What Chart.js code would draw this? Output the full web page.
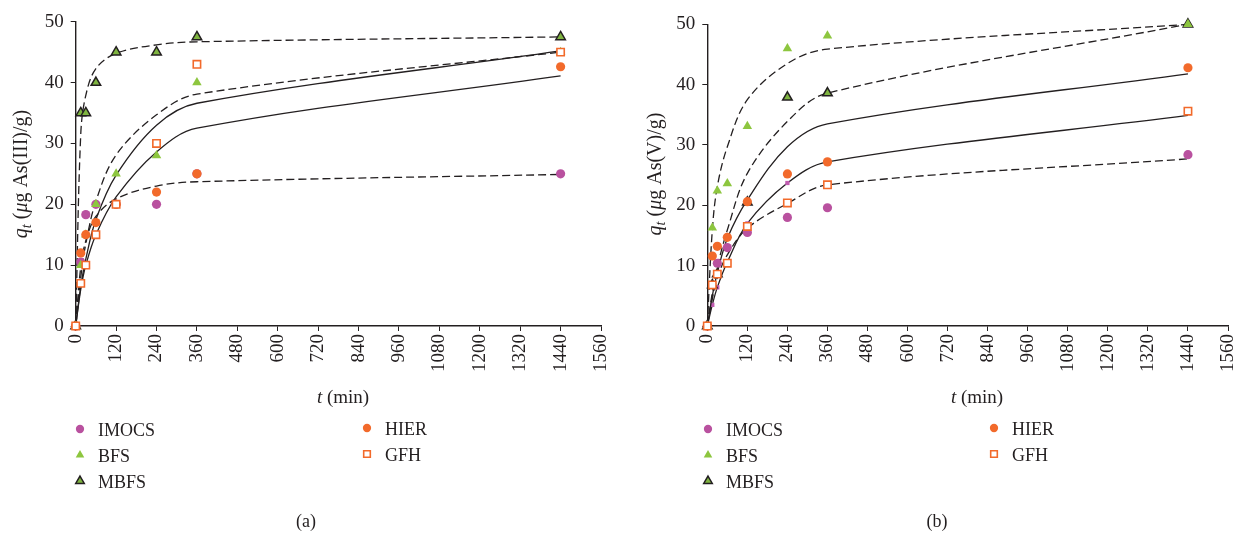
<!DOCTYPE html>
<html>
<head>
<meta charset="utf-8">
<script src="https://cdn.jsdelivr.net/npm/chart.js@4.4.1/dist/chart.umd.min.js"></script>
<style>
  html, body { margin: 0; padding: 0; background: #fff; }
  .wrap { position: relative; width: 1235px; height: 535px; overflow: hidden; }
  canvas { position: absolute; top: 0; }
  #chartA { left: 0; }
  #chartB { left: 617px; }
</style>
</head>
<body>
<div class="wrap">
  <canvas id="chartA" width="617" height="535"></canvas>
  <canvas id="chartB" width="618" height="535"></canvas>
</div>
<script>
// sampling times (min)
const times = [0, 15, 30, 60, 120, 240, 360, 1440];
const xTickStep = 120;
const yTickStep = 10;

// (a) As(III) measured
const imocsA = [0, 10.5, 18.3, 20, 20, 20, 25, 25];
const hierA = [0, 12, 15, 17, 20, 22, 25, 42.6];
const bfsA = [0, 10, 15, 20, 25, 28, 40, 45];
const gfhA = [0, 7, 10, 15, 20, 30, 43, 45];
const mbfsA = [0, 35, 35, 40, 45, 45, 47.5, 47.5];
// (a) model curves
const fitA1 = [0, 31.5, 37.9, 42.3, 44.8, 46.2, 46.7, 47.5];
const fitA2 = [0, 8, 13.5, 20.5, 28.1, 34.7, 38.1, 45.0];
const fitA3 = [0, 6.5, 11, 17.5, 24.8, 33.0, 36.6, 45.2];
const fitA4 = [0, 6, 10, 15, 21.2, 28.6, 32.5, 41.1];
const fitA5 = [0, 9.7, 14, 18, 20.9, 23, 23.7, 24.9];

// (b) As(V) measured
const imocsB = [0, null, 10.4, 13, 15.5, 18, 19.6, 28.4];
const hierB = [0, 11.6, 13.2, 14.7, 20.6, 25.2, 27.2, 42.8];
const bfsB = [0, 16.3, 22.4, 23.6, 33.1, 46, 48.1, 50];
const gfhB = [0, 6.8, 8.6, 10.4, 16.5, 20.4, 23.4, 35.6];
const mbfsB = [0, 6.8, 8.6, null, 20.5, 37.9, 38.6, 50];
// (b) model curves
const fitB1 = [0, 15.9, 23.1, 29.7, 37.5, 43.5, 45.9, 50];
const fitB2 = [0, 5.5, 9.8, 15.9, 25.3, 33.9, 38.6, 50];
const fitB3 = [0, 5, 8.8, 14.5, 20.9, 29.7, 33.5, 41.8];
const fitB4 = [0, 3.5, 6.4, 10.6, 17.0, 23.7, 27.2, 34.9];
const fitB5 = [0, 4.5, 8, 11.8, 16.2, 20.3, 23.4, 27.7];

const PURPLE = "#b9519f";
const ORANGE = "#f26a2b";
const GREEN = "#8dc63f";
const DARK = "#231f20";
const FONT = "'Liberation Serif', 'Times New Roman', serif";

const styles = {
    IMOCS: { pointStyle: "circle", pointRadius: 4.6, backgroundColor: PURPLE, borderColor: PURPLE, borderWidth: 0 },
    HIER: { pointStyle: "circle", pointRadius: 4.6, backgroundColor: ORANGE, borderColor: ORANGE, borderWidth: 0 },
    BFS: { pointStyle: "triangle", pointRadius: 5.5, backgroundColor: GREEN, borderColor: GREEN, borderWidth: 0 },
    GFH: { pointStyle: "rect", pointRadius: 5.2, backgroundColor: "#ffffff", borderColor: ORANGE, borderWidth: 1.6 },
    MBFS: { pointStyle: "triangle", pointRadius: 5.5, backgroundColor: "#7fb440", borderColor: DARK, borderWidth: 1.5 }
};

function toPoints(values) {
    const pts = [];
    times.forEach((t, i) => {
        if (values[i] !== null) pts.push({ x: t, y: values[i] });
    });
    return pts;
}

function pointSet(label, values) {
    return Object.assign({ label: label, data: toPoints(values), showLine: false, clip: false }, styles[label]);
}

function fitLine(values, dashed, markers) {
    const ds = {
        label: "fit",
        data: toPoints(values),
        showLine: true,
        borderColor: DARK,
        borderWidth: 1.3,
        borderDash: dashed ? [8, 4] : [],
        tension: 0.35,
        pointRadius: 0,
        clip: false
    };
    if (markers) {
        ds.pointStyle = "rect";
        ds.pointRadius = [0, 3, 3, 3, 3, 3, 3, 0];
        ds.pointBackgroundColor = "#c05bb0";
        ds.pointBorderWidth = 0;
    }
    return ds;
}

function drawMarker(ctx, label, x, y) {
    const s = styles[label];
    const r = s.pointRadius * 0.9;
    ctx.save();
    ctx.fillStyle = s.backgroundColor;
    ctx.strokeStyle = s.borderColor;
    ctx.lineWidth = s.borderWidth;
    ctx.beginPath();
    if (s.pointStyle === "circle") {
        ctx.arc(x, y, r, 0, Math.PI * 2);
    } else if (s.pointStyle === "triangle") {
        let a = 0;
        ctx.moveTo(x + Math.sin(a) * r, y - Math.cos(a) * r);
        a += Math.PI * 2 / 3;
        ctx.lineTo(x + Math.sin(a) * r, y - Math.cos(a) * r);
        a += Math.PI * 2 / 3;
        ctx.lineTo(x + Math.sin(a) * r, y - Math.cos(a) * r);
        ctx.closePath();
    } else {
        const h = r * Math.SQRT1_2;
        ctx.rect(x - h, y - h, h * 2, h * 2);
    }
    ctx.fill();
    if (s.borderWidth > 0) ctx.stroke();
    ctx.restore();
}

const panelText = {
    chartA: { ion: "III", yTitleX: 27, xTitleX: 343, legendX1: 80, legendX2: 367, caption: "(a)", captionX: 306 },
    chartB: { ion: "V", yTitleX: 44, xTitleX: 360, legendX1: 91, legendX2: 377, caption: "(b)", captionX: 320 }
};

// draws the axis titles, the legend and the panel caption
const decorPlugin = {
    id: "decor",
    afterDraw(chart) {
        const p = panelText[chart.canvas.id];
        const ctx = chart.ctx;
        ctx.save();
        ctx.fillStyle = DARK;
        ctx.textBaseline = "alphabetic";
        ctx.textAlign = "left";

        // y title, rotated: italic q, subscript t, italic mu
        const parts = [
            { text: "q", font: "italic 20px " + FONT, shift: 0 },
            { text: "t", font: "italic 14px " + FONT, shift: 4 },
            { text: " (", font: "20px " + FONT, shift: 0 },
            { text: "\u03bc", font: "italic 20px " + FONT, shift: 0 },
            { text: "g As(" + p.ion + ")/g)", font: "20px " + FONT, shift: 0 }
        ];
        const widths = [];
        let total = 0;
        parts.forEach(part => {
            ctx.font = part.font;
            const w = ctx.measureText(part.text).width;
            widths.push(w);
            total += w;
        });
        ctx.save();
        ctx.translate(p.yTitleX, 174);
        ctx.rotate(-Math.PI / 2);
        let pos = -total / 2;
        parts.forEach((part, i) => {
            ctx.font = part.font;
            ctx.fillText(part.text, pos, part.shift);
            pos += widths[i];
        });
        ctx.restore();

        // x title: italic t + (min)
        ctx.font = "italic 19px " + FONT;
        const tW = ctx.measureText("t").width;
        ctx.font = "19px " + FONT;
        const restW = ctx.measureText(" (min)").width;
        const xs = p.xTitleX - (tW + restW) / 2;
        ctx.font = "italic 19px " + FONT;
        ctx.fillText("t", xs, 403);
        ctx.font = "19px " + FONT;
        ctx.fillText(" (min)", xs + tW, 403);

        // legend, two columns
        const legend = [
            { label: "IMOCS", x: p.legendX1, y: 429 },
            { label: "BFS", x: p.legendX1, y: 455 },
            { label: "MBFS", x: p.legendX1, y: 481 },
            { label: "HIER", x: p.legendX2, y: 428 },
            { label: "GFH", x: p.legendX2, y: 454 }
        ];
        ctx.font = "18px " + FONT;
        legend.forEach(item => {
            drawMarker(ctx, item.label, item.x, item.y);
            ctx.fillStyle = DARK;
            ctx.fillText(item.label, item.x + 18, item.y + 6.5);
        });

        // caption
        ctx.textAlign = "center";
        ctx.fillText(p.caption, p.captionX, 527);
        ctx.restore();
    }
};

function createChart(canvasId, cfg) {
    const ctx = document.getElementById(canvasId);
    const canvasW = ctx.width;
    const datasets = [
        pointSet("GFH", cfg.gfh),
        pointSet("HIER", cfg.hier),
        pointSet("BFS", cfg.bfs),
        pointSet("MBFS", cfg.mbfs),
        pointSet("IMOCS", cfg.imocs)
    ].concat(cfg.fits);

    new Chart(ctx, {
        type: "scatter",
        data: { datasets: datasets },
        plugins: [decorPlugin],
        options: {
            responsive: false,
            animation: false,
            layout: {
                padding: { left: 0, top: cfg.plotTop, right: canvasW - cfg.plotRight, bottom: 0 }
            },
            scales: {
                x: {
                    type: "linear",
                    min: 0,
                    max: 1560,
                    ticks: {
                        stepSize: xTickStep,
                        minRotation: 90,
                        maxRotation: 90,
                        autoSkip: false,
                        padding: 3,
                        color: DARK,
                        font: { family: FONT, size: 19 },
                        callback: value => String(value)
                    },
                    grid: { drawOnChartArea: false, drawTicks: true, tickLength: 5, color: DARK, lineWidth: 1 },
                    border: { color: DARK, width: 1.4 },
                    afterFit: function (scale) {
                        scale.height = 535 - cfg.plotBottom;
                        scale.paddingLeft = 0;
                        scale.paddingRight = 0;
                    }
                },
                y: {
                    min: 0,
                    max: 50,
                    ticks: {
                        stepSize: yTickStep,
                        padding: 7,
                        color: DARK,
                        font: { family: FONT, size: 19 },
                        callback: value => String(value)
                    },
                    grid: { drawOnChartArea: false, drawTicks: true, tickLength: 5, color: DARK, lineWidth: 1 },
                    border: { color: DARK, width: 1.4 },
                    afterFit: function (scale) {
                        scale.width = cfg.plotLeft;
                    }
                }
            },
            plugins: {
                legend: { display: false },
                tooltip: { enabled: false }
            }
        }
    });
}

createChart("chartA", {
    imocs: imocsA, hier: hierA, bfs: bfsA, gfh: gfhA, mbfs: mbfsA,
    fits: [
        fitLine(fitA1, true),
        fitLine(fitA2, true),
        fitLine(fitA3, false),
        fitLine(fitA4, false),
        fitLine(fitA5, true)
    ],
    plotLeft: 75.7, plotRight: 601, plotTop: 21.7, plotBottom: 326
});

createChart("chartB", {
    imocs: imocsB, hier: hierB, bfs: bfsB, gfh: gfhB, mbfs: mbfsB,
    fits: [
        fitLine(fitB1, true),
        fitLine(fitB2, true),
        fitLine(fitB3, false),
        fitLine(fitB4, false, true),
        fitLine(fitB5, true)
    ],
    plotLeft: 90.3, plotRight: 612, plotTop: 24.3, plotBottom: 326
});
</script>
</body>
</html>
